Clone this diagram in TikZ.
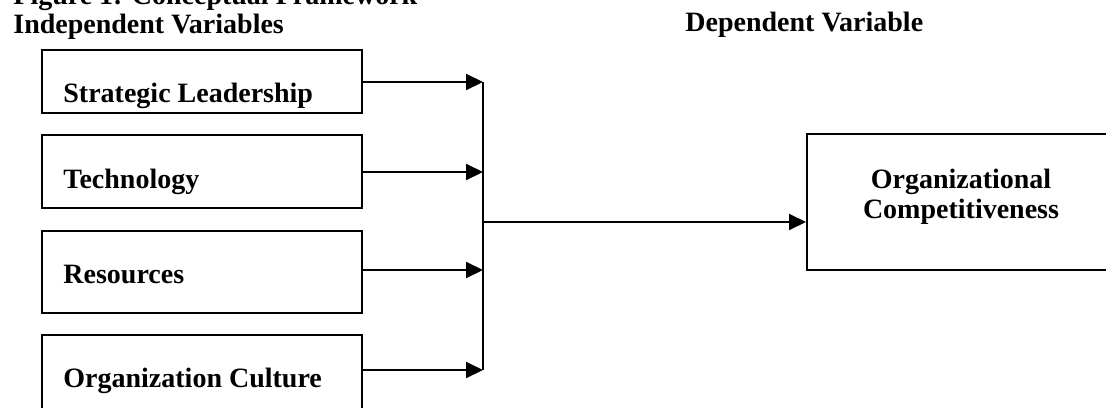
\documentclass[tikz,border=0pt]{standalone}
\usepackage{fontspec}
\setmainfont{Liberation Serif}
\usetikzlibrary{arrows.meta}
\tikzset{varbox/.style={draw=black, line width=1pt, minimum width=160pt, inner sep=0pt},
vartext/.style={font=\bfseries\fontsize{14}{15}\selectfont, inner sep=0pt},
%arrow into the bus and into the outcome box
link/.style={line width=1pt, -{Triangle[length=8.5pt,width=8pt]}}}

\begin{document}
\begin{tikzpicture}[x=0.5pt,y=-0.5pt]

    \clip (0,0) rectangle (1106,407);

    \node[vartext, anchor=base west] (fig) at (13,4) {Figure 1: Conceptual Framework};
    \node[vartext, anchor=base west] (indep) at (13,33) {Independent Variables};
    \node[vartext, anchor=base west] (dep) at (685,32) {Dependent Variable};

    \foreach \n/\y/\h in {sl/81.5/31.5, te/171.5/36.5, re/272/41, cu/377.5/42.5}
    \node[varbox, minimum height=\h pt] (\n) at (202,\y) {};

    %texts are cut at the bottom line of their box
    \foreach \n/\y/\t in {sl/102/Strategic Leadership, te/188/Technology, re/283/Resources, cu/387/Organization Culture}
    {
    \begin{scope}
    \clip (\n.north west) rectangle (\n.south east);
    \node[vartext, anchor=base west] (\n-t) at (63,\y) {\t};
    \end{scope}
    }

    \node[varbox, minimum width=154pt, minimum height=68pt] (oc) at (961,202) {};
    \node[vartext, align=center] (oc-t) at (961,197) {Organizational\\Competitiveness};

    \foreach \n/\y in {sl/82, te/172, re/270, cu/370}
    {
    \coordinate (j-\n) at (483,\y);
    \draw[link] (\n.east |- j-\n) -- (j-\n);
    }

    \coordinate (j-out) at (483,222);

    \draw[line width=1pt] (j-sl) -- (j-cu);
    \draw[link] (j-out) -- (oc.west |- j-out);

\end{tikzpicture}
\end{document}
